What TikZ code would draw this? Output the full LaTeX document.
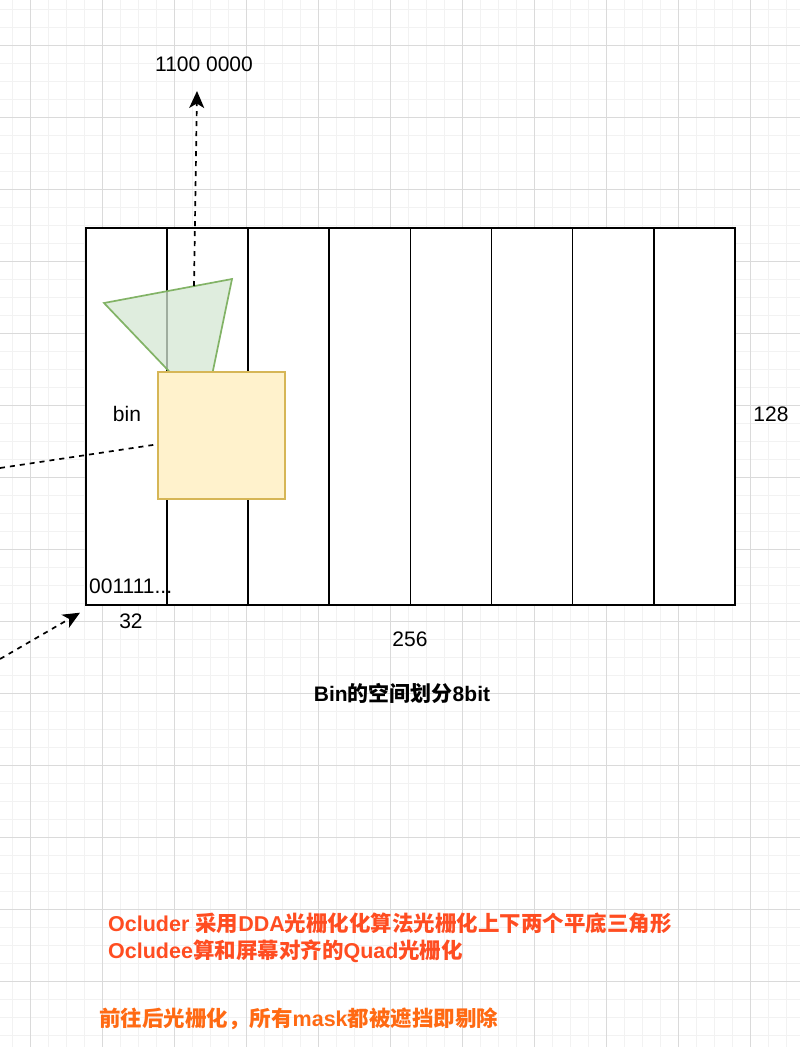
\documentclass[tikz,border=0pt]{standalone}
\usepackage{fontspec}
\setmainfont{Liberation Sans}
\newfontfamily\cjk{Noto Sans CJK SC}
\usetikzlibrary{arrows.meta, positioning}

\definecolor{gridminor}{HTML}{F2F2F2}
\definecolor{gridmajor}{HTML}{DADADA}
\definecolor{trifill}{HTML}{D5E8D4}
\definecolor{tridraw}{HTML}{82B366}
\definecolor{quadfill}{HTML}{FFF2CC}
\definecolor{quaddraw}{HTML}{D6B656}
\definecolor{notered}{HTML}{FF4D21}
\definecolor{noteorange}{HTML}{FF6A13}

\begin{document}
\begin{tikzpicture}[
    x=1pt, y=-1pt,
    minorline/.style={gridminor, line width=0.8pt},
    majorline/.style={gridmajor, line width=0.8pt},
    colbox/.style={rectangle, draw=black, line width=1.7pt, fill=white, anchor=north west, inner sep=0pt, minimum width=81.125pt, minimum height=377pt},
    quadbox/.style={rectangle, draw=quaddraw, fill=quadfill, line width=1.7pt, anchor=north west, inner sep=0pt, minimum size=127pt},
    tri/.style={draw=tridraw, fill=trifill, fill opacity=0.75, line width=1.7pt, line join=miter},
    numtext/.style={font=\fontsize{21}{25}\selectfont, inner sep=0pt},
    notetext/.style={font=\fontsize{21.5}{27}\selectfont\bfseries, inner sep=0pt, align=left},
    dasharrow/.style={-{Stealth[length=17pt, width=15pt, inset=4.5pt]}, line width=1.7pt, dash pattern=on 5pt off 5pt},
    dashline/.style={line width=1.7pt, dash pattern=on 5pt off 5pt}
]

\useasboundingbox (0,0) rectangle (800,1047);
\fill[white] (0,0) rectangle (800,1047);

% grid
\foreach \x in {12.5,30.5,...,800} \draw[minorline] (\x,0) -- (\x,1047);
\foreach \y in {9,27,...,1047} \draw[minorline] (0,\y) -- (800,\y);
\foreach \x in {30.5,102.5,...,800} \draw[majorline] (\x,0) -- (\x,1047);
\foreach \y in {45,117,...,1047} \draw[majorline] (0,\y) -- (800,\y);

% bins
\foreach \i in {0,...,7}
  \node[colbox] (c\i) at (85+81.125*\i,227) {};

% occluder triangle
\coordinate (ta) at (104,303);
\coordinate (tb) at (232,279);
\coordinate (tc) at (205,409);
\draw[tri] (ta) -- (tb) -- (tc) -- cycle;

% occludee quad
\node[quadbox] (quad) at (157,371) {};

% labels
\node[numtext] (code) at (204,64) {1100 0000};
\node[numtext] (bin) at (127,414) {bin};
\node[numtext, anchor=west] (mask) at (89,586) {001111...};
\node[numtext] (w32) at (131,621) {32};
\node[numtext] (w256) at (410,639) {256};
\node[numtext] (h128) at (771,414) {128};
\node[font=\fontsize{21}{25}\selectfont\bfseries, inner sep=0pt] (title) at (402,693) {Bin{\cjk 的空间划分}8bit};

\node[notetext, notered, anchor=base west] (rule1) at (108,958)
  {Ocluder {\cjk 采用}DDA{\cjk 光栅化化算法光栅化上下两个平底三角形}\\Ocludee{\cjk 算和屏幕对齐的}Quad{\cjk 光栅化}};
\node[notetext, noteorange, anchor=base west] (rule2) at (99,1026)
  {{\cjk 前往后光栅化，所有}mask{\cjk 都被遮挡即剔除}};

% connectors
\coordinate (trihit) at (194,286);
\coordinate (upend) at (197,91);
\draw[dasharrow] (trihit) -- (upend);

\coordinate (leftin) at (0,468);
\draw[dashline] (leftin) -- ([yshift=-9pt]quad.west);

\coordinate (lowin) at (0,659);
\draw[dasharrow] (lowin) -- ([xshift=-5pt,yshift=-7pt]c0.south west);

\end{tikzpicture}
\end{document}
